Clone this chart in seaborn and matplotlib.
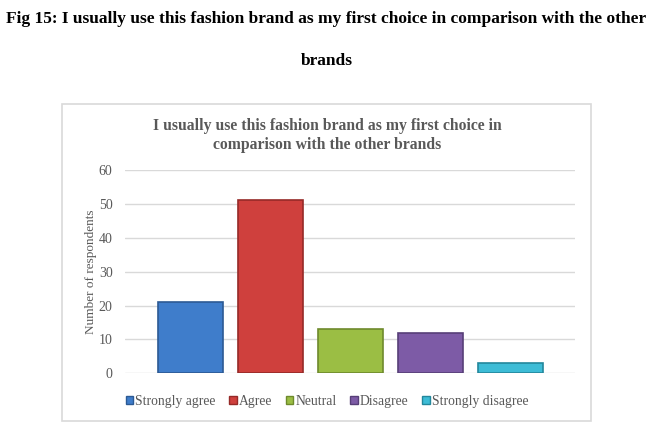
import matplotlib
matplotlib.use("Agg")
import matplotlib.pyplot as plt
import matplotlib.patches as mpatches
import seaborn as sns
import pandas as pd

# survey answers for fig 15
answers = ["Strongly agree", "Agree", "Neutral", "Disagree", "Strongly disagree"]
respondents = [21, 51, 13, 12, 3]
bar_colors = ["#3F7DCB", "#CF403D", "#9BBE44", "#7D5BA6", "#3DBCD6"]
edge_colors = ["#2C5A94", "#962A28", "#6E8A2C", "#573F78", "#23879C"]
y_ticks = [0, 10, 20, 30, 40, 50, 60]

fig_title = "Fig 15: I usually use this fashion brand as my first choice in comparison with the other\n\nbrands"
chart_title = "I usually use this fashion brand as my first choice in\ncomparison with the other brands"

df = pd.DataFrame({"answer": answers, "count": respondents})

sns.set_style("white")
plt.rcParams["font.family"] = ["Liberation Serif", "DejaVu Serif"]

W, H = 653, 426
fig = plt.figure(figsize=(W / 100, H / 100), dpi=100)
ax = fig.add_axes([125 / W, 1 - 373.3 / H, 450 / W, 203.3 / H])

sns.barplot(data=df, x="answer", y="count", hue="answer", palette=bar_colors,
            width=0.8125, legend=False, ax=ax, saturation=1)
for patch, ec in zip(ax.patches, edge_colors):
    patch.set_edgecolor(ec)
    patch.set_linewidth(1.2)

ax.set_xlim(-0.8125, 4.8125)
ax.set_ylim(0, 60)
ax.set_yticks(y_ticks)
ax.set_xticks([])
ax.set_xlabel("")
ax.set_ylabel("Number of respondents", fontsize=9.5, color="#595959", labelpad=1)
ax.tick_params(axis="y", length=0, pad=9, labelsize=10, labelcolor="#595959")
ax.grid(axis="y", color="#D9D9D9", linewidth=1)
ax.set_axisbelow(True)
for s in ax.spines.values():
    s.set_visible(False)

# outer chart frame
fig.patches.append(mpatches.Rectangle((62 / W, 1 - 421 / H), (591 - 62) / W, (421 - 104) / H,
                                      transform=fig.transFigure, fill=False,
                                      edgecolor="#D9D9D9", linewidth=1.2))

fig.text(327 / W, 1 - 135.5 / H, chart_title, ha="center", va="center",
         fontsize=11.3, fontweight="bold", color="#595959", linespacing=1.25)
fig.text(W / 2 / W, 1 - 40 / H, fig_title, ha="center", va="center",
         fontsize=12.5, fontweight="bold", color="black", linespacing=1.45)

handles = [mpatches.Patch(facecolor=c, edgecolor=e, label=a)
           for a, c, e in zip(answers, bar_colors, edge_colors)]
fig.legend(handles=handles, loc="center", bbox_to_anchor=(327 / W, 1 - 401.7 / H),
           ncol=5, frameon=False, fontsize=9.8, handlelength=0.55, handleheight=0.55,
           handletextpad=0.15, columnspacing=1.0, labelcolor="#595959")

fig.savefig("out.png", dpi=100)
